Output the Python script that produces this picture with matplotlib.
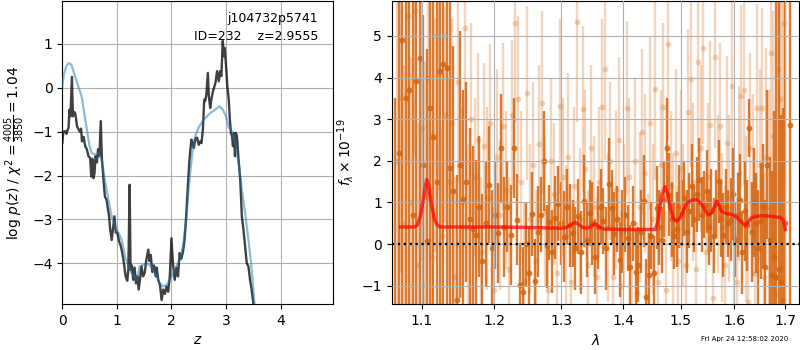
import numpy as np
import matplotlib
matplotlib.use("Agg")
import matplotlib.pyplot as plt
from matplotlib.ticker import NullLocator, FixedLocator, FixedFormatter

# ---------------- left panel: p(z) ----------------
chi_z = [0.0, 0.02, 0.055, 0.075, 0.1, 0.115, 0.13, 0.15, 0.176, 0.195,
         0.22, 0.24, 0.27, 0.30, 0.32, 0.345, 0.36, 0.39, 0.42, 0.45,
         0.48, 0.51, 0.53, 0.55, 0.57, 0.59, 0.61, 0.635, 0.655, 0.68,
         0.705, 0.725, 0.75, 0.78, 0.81, 0.857, 0.875, 0.905, 0.93, 0.955,
         0.98, 1.01, 1.04, 1.07, 1.10, 1.137, 1.16, 1.19, 1.21, 1.234,
         1.25, 1.275, 1.30, 1.325, 1.35, 1.375, 1.40, 1.425, 1.45, 1.48,
         1.51, 1.54, 1.575, 1.595, 1.62, 1.65, 1.68, 1.71, 1.73, 1.757,
         1.79, 1.82, 1.85, 1.88, 1.91, 1.94, 1.97, 2.0, 2.03, 2.06,
         2.09, 2.12, 2.15, 2.18, 2.21, 2.24, 2.27, 2.30, 2.33, 2.365,
         2.385, 2.41, 2.44, 2.47, 2.50, 2.53, 2.55, 2.576, 2.60, 2.62,
         2.64, 2.667, 2.685, 2.71, 2.73, 2.76, 2.78, 2.806, 2.836, 2.867,
         2.89, 2.915, 2.94, 2.96, 2.976, 3.0, 3.024, 3.05, 3.07, 3.09,
         3.11, 3.127, 3.145, 3.164, 3.18, 3.20, 3.23, 3.26, 3.29, 3.32,
         3.35, 3.38, 3.41, 3.44, 3.47, 3.50, 3.52, 3.55]
chi_logp = [-1.26, -1.0, -0.99, -1.05, -0.95, -0.91, -0.5, -0.65, 0.25, -0.65,
            -0.55, -0.6, -0.88, -0.95, -1.0, -0.93, -1.22, -1.12, -1.33, -1.4,
            -1.56, -1.6, -2.02, -1.62, -2.06, -1.95, -1.56, -1.7, -1.4, -1.55,
            -0.76, -1.6, -2.02, -2.48, -2.55, -2.93, -3.2, -3.47, -3.2, -2.93,
            -3.3, -3.31, -3.5, -3.6, -3.77, -4.07, -4.3, -4.4, -4.15, -2.21,
            -4.15, -4.05, -4.38, -4.1, -4.46, -4.3, -4.6, -4.35, -4.07, -4.3,
            -4.22, -3.92, -3.69, -3.95, -3.81, -4.2, -4.05, -4.3, -4.1, -4.38,
            -4.5, -4.84, -4.6, -4.7, -4.53, -4.65, -4.3, -3.43, -4.05, -4.38,
            -4.1, -4.3, -3.77, -3.9, -3.75, -3.47, -2.93, -2.25, -1.64, -1.18,
            -1.25, -1.37, -1.15, -1.14, -1.3, -1.22, -1.26, -0.95, -0.27, -0.3,
            -0.15, 0.34, -0.19, -0.46, -0.27, -0.08, 0.0, 0.11, 0.38, 0.15,
            0.38, 0.27, 1.07, 0.72, 0.91, 0.5, 0.04, -0.27, -0.72, -1.03,
            -1.1, -1.33, -1.03, -1.56, -1.03, -1.1, -1.64, -2.09, -2.93, -3.24,
            -3.62, -4.0, -4.07, -4.38, -4.61, -4.91, -5.14, -5.5]

pz_z = [0.0, 0.03, 0.055, 0.085, 0.115, 0.145, 0.176, 0.21, 0.24, 0.27,
        0.30, 0.33, 0.36, 0.40, 0.45, 0.50, 0.54, 0.60, 0.66, 0.72,
        0.78, 0.845, 0.905, 0.967, 1.03, 1.09, 1.15, 1.21, 1.27, 1.33,
        1.37, 1.42, 1.48, 1.54, 1.60, 1.67, 1.73, 1.79, 1.85, 1.91,
        1.97, 2.03, 2.09, 2.15, 2.21, 2.27, 2.33, 2.40, 2.45, 2.50,
        2.56, 2.62, 2.715, 2.80, 2.88, 2.94, 3.0, 3.05, 3.11, 3.17,
        3.23, 3.29, 3.35, 3.41, 3.46, 3.50, 3.53, 3.56]
pz_logp = [0.05, 0.3, 0.42, 0.52, 0.56, 0.55, 0.5, 0.35, 0.23, 0.12,
           0.0, -0.1, -0.23, -0.57, -0.95, -1.33, -1.49, -1.52, -1.49, -1.64,
           -2.09, -2.55, -2.93, -3.16, -3.31, -3.47, -3.85, -4.07, -4.23, -4.3,
           -4.38, -4.07, -4.04, -4.0, -4.04, -4.15, -4.3, -4.46, -4.53, -4.5,
           -4.38, -4.23, -4.07, -3.92, -3.62, -3.01, -2.09, -1.3, -1.05, -0.9,
           -0.78, -0.69, -0.57, -0.5, -0.42, -0.5, -0.65, -0.91, -0.99, -1.26,
           -1.71, -2.32, -2.86, -3.47, -4.0, -4.6, -5.06, -5.5]

z_ticks = [0, 1, 2, 3, 4]
logp_ticks = [-4, -3, -2, -1, 0, 1]

# ---------------- right panel: spectrum ----------------
dark_start, dark_step = 1.066, 0.0045
dark_flux = [-3.0, 2.2, 4.9, 3.52, 3.70, 0.7, 3.92, 4.48, 1.9, 0.08,
             3.27, 2.57, 1.5, 4.17, 4.32, 4.24, 1.83, 1.27, -1.34, 1.91,
             1.09, 1.49, 0.6, 0.36, 0.22, 0.9, -0.4, 0.5, 1.43, -0.1,
             0.7, 0.26, 2.3, 0.4, 0.9, 0.22, 2.3, 0.59, -0.98, -1.16,
             0.0, -0.7, 0.72, -0.88, 0.3, 0.7, 2.0, -0.05, 0.52, -0.18,
             0.63, 0.97, 0.5, 0.18, 0.9, 0.45, 0.26, -0.1, 0.67, -0.2,
             1.03, 0.1, 0.75, 0.5, -0.3, 0.4, 0.9, 0.55, -0.1, 1.45,
             0.87, 0.25, 0.6, -0.38, 0.3, 0.7, 0.15, -0.54, 0.5, -0.66,
             -0.5, 0.3, 1.03, -1.26, -0.74, 0.2, -0.7, 0.87, 0.4, 0.1,
             1.07, 2.31, 1.19, 0.6, 0.2, 0.35, 0.9, 0.75, 1.1, 0.3,
             0.8, 1.4, 0.6, 1.2, 1.55, 0.7, 0.95, 1.27, 0.4, 0.8,
             0.2, 0.99, 1.51, 0.6, 0.22, 0.9, 0.5, 0.59, 1.2, 0.1,
             0.7, 1.07, -0.2, 0.8, 0.45, 2.79, 0.3, 1.0, 0.5, -0.1,
             0.55, 0.9, -0.54, 1.91, 0.1, -0.74, -0.3, -0.78, -0.6, -0.9,
             -1.34, 0.5, np.nan, 2.85]
dark_err = [6.5, 8, 8, 8, 8, 7, 8, 8, 3.6, 4.6,
            8, 8, 8, 7, 8, 8, 4.0, 3.5, 3.0, 3.2,
            2.6, 2.4, 2.2, 2.0, 1.8, 1.7, 1.6, 1.5, 1.4, 1.4,
            1.3, 1.2, 1.3, 1.2, 1.1, 1.2, 1.2, 1.1, 1.0, 1.1,
            1.0, 1.1, 1.0, 1.0, 1.1, 0.9, 1.2, 1.0, 0.9, 1.0,
            1.0, 0.9, 1.0, 1.1, 0.9, 1.0, 0.8, 1.0, 0.9, 1.0,
            1.1, 0.9, 0.8, 1.0, 0.9, 1.0, 0.9, 0.8, 1.0, 1.1,
            0.9, 1.0, 0.8, 0.9, 1.0, 0.9, 0.8, 1.0, 0.9, 1.0,
            0.9, 1.0, 1.1, 0.9, 1.0, 0.8, 0.9, 1.0, 0.9, 0.8,
            0.9, 1.2, 1.0, 0.9, 0.8, 0.9, 1.0, 0.8, 0.9, 1.0,
            0.9, 1.0, 0.8, 0.9, 1.0, 0.9, 0.8, 1.0, 0.9, 1.0,
            0.9, 0.8, 1.0, 0.9, 1.0, 0.9, 0.8, 1.0, 1.1, 0.9,
            1.0, 1.1, 1.0, 1.2, 1.1, 0.7, 1.2, 1.3, 1.2, 1.4,
            1.4, 1.5, 1.6, 1.8, 2.0, 2.5, 3.5, 6.6, 6.5, 4.0,
            4.6, 7, np.nan, 9]

light_start, light_step = 1.0685, 0.0045
light_flux = [2.0, 3.5, 0.5, 5.47, 1.0, 5.6, -0.5, 2.8, 1.2, 4.0,
              -0.3, 2.6, 4.1, 0.2, 3.1, 1.5, 2.9, -0.8, 3.9, 1.0,
              5.2, 0.4, 3.0, 1.6, 2.5, -0.2, 2.35, 1.1, 2.9, -1.1,
              2.1, 0.7, 2.83, 1.3, -0.6, 3.11, 5.3, 3.49, 1.5, -0.9,
              3.63, 0.6, 1.9, -0.4, 2.4, 3.4, 0.8, -1.1, 2.0, 1.2,
              -0.7, 3.31, 1.6, 0.2, 2.1, -0.9, 1.4, 5.33, 0.6, 3.25,
              1.8, -0.5, 2.3, 0.9, -0.8, 1.5, 3.3, 4.21, 0.4, 2.0,
              -0.78, 1.3, 2.5, -1.0, 0.7, 3.27, 1.6, -1.54, 2.0, -1.18,
              0.9, 2.69, 1.7, -0.5, 2.91, 0.6, 3.73, -0.9, 1.9, 3.3,
              -1.1, 4.8, 1.4, 0.3, 2.2, -0.4, 1.8, 0.7, -0.5, 3.17,
              3.96, 1.5, -0.6, 4.38, 2.3, 4.7, -0.2, 1.6, 2.87, -1.3,
              4.5, 1.2, 2.83, 0.4, -0.5, 2.42, 1.1, 3.8, 0.2, -0.9,
              1.7, 3.55, 3.7, 0.6, -1.4, 2.3, 1.4, -0.7, 3.27, 1.9,
              3.27, -0.8, 2.1, 0.9, 4.6, 2.6, -1.2, 4.2, 3.48, 2.9, 5.32]
light_err = [4.0, 4.2, 3.8, 3.6, 3.5, 3.5, 3.4, 3.2, 3.2, 3.0,
             3.0, 2.8, 2.8, 2.6, 2.6, 2.5, 2.5, 2.4, 2.4, 2.3,
             2.2, 2.0, 2.3, 1.9, 2.1, 1.8, 2.0, 2.2, 1.9, 2.0,
             2.1, 1.8, 2.0, 1.9, 2.2, 1.8, 2.4, 2.0, 1.7, 1.9,
             2.1, 1.8, 2.0, 1.7, 1.9, 2.2, 1.8, 1.9, 2.0, 1.7,
             1.8, 2.1, 1.9, 1.7, 2.0, 1.8, 1.9, 2.4, 1.7, 2.0,
             1.9, 1.8, 2.0, 1.7, 1.9, 1.8, 2.1, 2.2, 1.8, 1.9,
             1.7, 1.9, 2.0, 1.8, 1.7, 2.1, 1.9, 1.8, 2.0, 1.7,
             1.8, 2.0, 1.9, 1.7, 2.1, 1.8, 2.2, 1.9, 1.8, 2.0,
             1.9, 2.3, 1.8, 1.9, 2.0, 1.8, 1.9, 1.7, 1.8, 2.0,
             2.1, 1.9, 1.8, 2.2, 2.0, 2.3, 1.9, 1.8, 2.0, 1.9,
             2.2, 1.9, 2.0, 1.8, 1.9, 2.1, 2.0, 2.2, 1.9, 2.0,
             2.1, 2.2, 2.3, 2.0, 2.1, 2.3, 2.2, 2.4, 2.5, 2.3,
             2.4, 2.5, 2.6, 2.8, 3.0, 3.0, 3.2, 3.4, 3.5, 3.6, 3.8]

model_wave = [1.0725, 1.090, 1.094, 1.098, 1.102, 1.105, 1.1066, 1.109, 1.113, 1.117,
              1.121, 1.125, 1.130, 1.20, 1.25, 1.30, 1.308, 1.315, 1.322, 1.328,
              1.334, 1.341, 1.348, 1.354, 1.360, 1.368, 1.40, 1.43, 1.455, 1.460,
              1.4636, 1.467, 1.4724, 1.477, 1.482, 1.487, 1.4933, 1.500, 1.5113, 1.520,
              1.5293, 1.5386, 1.545, 1.551, 1.557, 1.5667, 1.576, 1.586, 1.598, 1.6078,
              1.6208, 1.6338, 1.645, 1.6565, 1.670, 1.6836, 1.690, 1.697, 1.7004]
model_flux = [0.41, 0.41, 0.45, 0.65, 1.05, 1.4, 1.55, 1.4, 0.95, 0.6,
              0.45, 0.41, 0.41, 0.41, 0.40, 0.38, 0.40, 0.46, 0.52, 0.47,
              0.40, 0.38, 0.43, 0.49, 0.42, 0.36, 0.35, 0.35, 0.35, 0.55,
              0.9, 1.2, 1.38, 1.2, 0.85, 0.62, 0.55, 0.65, 0.99, 1.05,
              1.07, 0.95, 0.8, 0.7, 0.75, 1.03, 0.78, 0.73, 0.7, 0.6,
              0.44, 0.64, 0.67, 0.68, 0.67, 0.65, 0.64, 0.57, 0.35]

wave_ticks = [1.1, 1.2, 1.3, 1.4, 1.5, 1.6, 1.7]
flux_ticks = [-1, 0, 1, 2, 3, 4, 5]

obj_name = "j104732p5741"
obj_info = "ID=232    z=2.9555"
timestamp = "Fri Apr 24 12:58:02 2020"

# ---------------- figure ----------------
fig = plt.figure(figsize=(8, 3.5), dpi=100)
W, H = 800.0, 350.0
ax1 = fig.add_axes([62.3 / W, 46 / H, 270.7 / W, 303 / H])
ax2 = fig.add_axes([391.7 / W, 46 / H, 407.3 / W, 303 / H])

ax1.plot(chi_z, chi_logp, color='k', alpha=0.75, lw=1.7, zorder=3)
ax1.plot(pz_z, pz_logp, color='tab:blue', alpha=0.5, lw=1.6, zorder=4)
ax1.set_xlim(0, 4.96)
ax1.set_ylim(-4.93, 1.98)
ax1.set_xticks(z_ticks)
ax1.set_yticks(logp_ticks)
ax1.grid(True)
ax1.set_xlabel(r'$z$')
ax1.set_ylabel(r'log $p(z)$ / $\chi^2=\frac{4005}{3850}=1.04$')
ax1.text(0.945, 0.943, obj_name, transform=ax1.transAxes, ha='right', va='center', fontsize=9)
ax1.text(0.945, 0.882, obj_info, transform=ax1.transAxes, ha='right', va='center', fontsize=9)

orange = '#d4640f'
dark_wave = dark_start + dark_step * np.arange(len(dark_flux))
light_wave = light_start + light_step * np.arange(len(light_flux))

ax2.errorbar(light_wave, light_flux, yerr=light_err, fmt='o', color=orange,
             alpha=0.27, ms=4.2, elinewidth=1.7, mew=0, zorder=1)
ax2.errorbar(dark_wave, dark_flux, yerr=dark_err, fmt='o', color=orange,
             alpha=0.85, ms=4.2, elinewidth=1.7, mew=0, zorder=2)
ax2.plot(model_wave, model_flux, color='r', alpha=0.7, lw=2.5, zorder=4)
ax2.axhline(0, color='k', ls=':', lw=1.6, zorder=5)

ax2.set_xscale('log')
ax2.set_xlim(1.0612, 1.7286)
ax2.set_ylim(-1.44, 5.84)
ax2.xaxis.set_major_locator(FixedLocator(wave_ticks))
ax2.xaxis.set_major_formatter(FixedFormatter([f'{t:.1f}' for t in wave_ticks]))
ax2.xaxis.set_minor_locator(NullLocator())
ax2.set_yticks(flux_ticks)
ax2.set_axisbelow(False)
ax2.grid(True, zorder=3)
ax2.set_xlabel(r'$\lambda$')
ax2.set_ylabel(r'$f_\lambda\times10^{-19}$')

fig.text(788.3 / W, 1 - 339.3 / H, timestamp, ha='right', va='center', fontsize=5)

fig.savefig('out.png', dpi=100)
